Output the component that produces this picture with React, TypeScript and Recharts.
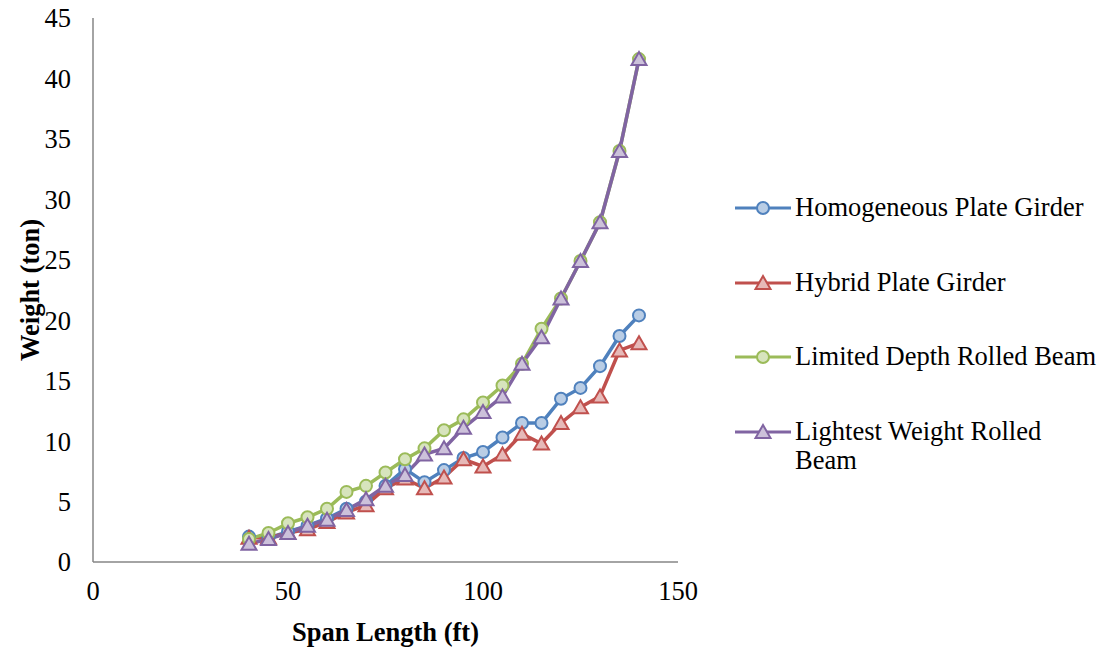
import React from 'react';
import { LineChart, Line, XAxis, YAxis } from 'recharts';

const spans = [40, 45, 50, 55, 60, 65, 70, 75, 80, 85, 90, 95, 100, 105, 110, 115, 120, 125, 130, 135, 140];
const homogeneous = [2.1, 2.0, 2.5, 3.0, 3.6, 4.4, 5.0, 6.3, 7.7, 6.6, 7.6, 8.6, 9.1, 10.3, 11.5, 11.5, 13.5, 14.4, 16.2, 18.7, 20.4];
const hybrid = [2.0, 2.0, 2.4, 2.7, 3.3, 4.1, 4.7, 6.1, 6.9, 6.1, 7.0, 8.5, 7.9, 8.9, 10.6, 9.8, 11.5, 12.8, 13.7, 17.5, 18.1];
const limitedDepth = [1.9, 2.4, 3.2, 3.7, 4.4, 5.8, 6.3, 7.4, 8.5, 9.4, 10.9, 11.8, 13.2, 14.6, 16.4, 19.3, 21.8, 24.9, 28.1, 34.0, 41.6];
const lightestWeight = [1.5, 1.9, 2.4, 3.0, 3.5, 4.3, 5.2, 6.3, 7.2, 8.9, 9.4, 11.1, 12.4, 13.7, 16.4, 18.6, 21.8, 24.9, 28.1, 34.0, 41.6];
const xTicks = [0, 50, 100, 150];
const yTicks = [0, 5, 10, 15, 20, 25, 30, 35, 40, 45];

const data = spans.map((s, i) => ({
  span: s,
  homogeneous: homogeneous[i],
  hybrid: hybrid[i],
  limitedDepth: limitedDepth[i],
  lightestWeight: lightestWeight[i],
}));

const series = [
  { key: 'homogeneous', name: 'Homogeneous Plate Girder', stroke: '#4F81BD', fill: '#B9CDE5', marker: 'circle' },
  { key: 'hybrid', name: 'Hybrid Plate Girder', stroke: '#C0504D', fill: '#E6B9B8', marker: 'triangle' },
  { key: 'limitedDepth', name: 'Limited Depth Rolled Beam', stroke: '#9BBB59', fill: '#D7E4BD', marker: 'circle' },
  { key: 'lightestWeight', name: 'Lightest Weight Rolled Beam', stroke: '#8064A2', fill: '#CCC1DA', marker: 'triangle' },
];

const FONT = 'Liberation Serif';
const FS = 26.5;

const Marker = ({ cx, cy, type, stroke, fill }: any) => {
  if (cx == null || cy == null) return null;
  if (type === 'triangle') {
    const pts = `${cx},${cy - 7} ${cx + 7.5},${cy + 6} ${cx - 7.5},${cy + 6}`;
    return <polygon points={pts} fill={fill} stroke={stroke} strokeWidth={2} />;
  }
  return <circle cx={cx} cy={cy} r={6} fill={fill} stroke={stroke} strokeWidth={2} />;
};

// legend drawn beside the plot, like the Excel one
const LegendBlock = () => (
  <div style={{ position: 'absolute', left: 735, top: 193, width: 368, fontFamily: FONT, fontSize: FS, color: '#000' }}>
    {series.map((s, i) => (
      <div key={s.key} style={{ position: 'absolute', top: i * 74.7, left: 0, display: 'flex', alignItems: 'flex-start' }}>
        <svg width={58} height={30} style={{ flexShrink: 0 }}>
          <line x1={0} y1={15} x2={56} y2={15} stroke={s.stroke} strokeWidth={3} />
          <Marker cx={28} cy={15} type={s.marker} stroke={s.stroke} fill={s.fill} />
        </svg>
        <div style={{ marginLeft: 2, width: 306, lineHeight: '29px' }}>{s.name}</div>
      </div>
    ))}
  </div>
);

const App = () => {
  return (
    <div style={{ position: 'absolute', left: 0, top: 0, width: 1103, height: 647, background: '#fff', fontFamily: FONT }}>
      <LineChart width={1103} height={647} data={data} margin={{ top: 18, right: 425, left: 0, bottom: 0 }} style={{ fontFamily: FONT }}>
        <XAxis
          type="number"
          dataKey="span"
          domain={[0, 150]}
          ticks={xTicks}
          height={85}
          tickSize={0}
          tickMargin={19}
          axisLine={{ stroke: '#868686', strokeWidth: 1.5 }}
          tick={{ fill: '#000', fontSize: FS, fontFamily: FONT }}
          label={{ value: 'Span Length (ft)', position: 'insideBottom', offset: 6, fill: '#000', fontSize: FS, fontWeight: 'bold', fontFamily: FONT }}
        />
        <YAxis
          type="number"
          domain={[0, 45]}
          ticks={yTicks}
          width={93}
          tickSize={0}
          tickMargin={22}
          axisLine={{ stroke: '#868686', strokeWidth: 1.5 }}
          tick={{ fill: '#000', fontSize: FS, fontFamily: FONT }}
          label={{ value: 'Weight (ton)', angle: -90, position: 'insideLeft', offset: 30, textAnchor: 'middle', fill: '#000', fontSize: FS, fontWeight: 'bold', fontFamily: FONT }}
        />
        {series.map((s) => (
          <Line
            key={s.key}
            type="linear"
            dataKey={s.key}
            name={s.name}
            stroke={s.stroke}
            strokeWidth={3.5}
            isAnimationActive={false}
            dot={(p: any) => <Marker key={`${s.key}-${p.index}`} cx={p.cx} cy={p.cy} type={s.marker} stroke={s.stroke} fill={s.fill} />}
            activeDot={false}
          />
        ))}
      </LineChart>
      <LegendBlock />
    </div>
  );
};

export default App;
